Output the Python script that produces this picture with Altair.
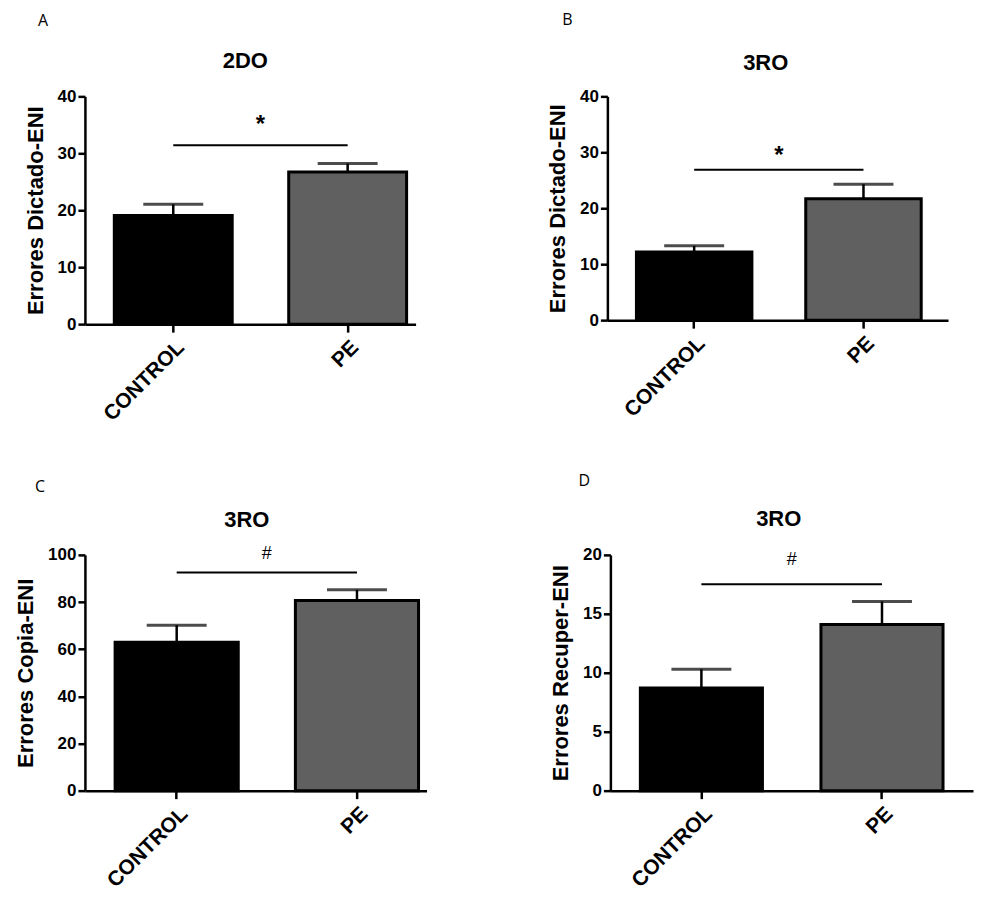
import altair as alt
import pandas as pd

# ---------------- data ----------------
panel_letters = ["A", "B", "C", "D"]
panel_titles = ["2DO", "3RO", "3RO", "3RO"]
y_titles = ["Errores Dictado-ENI", "Errores Dictado-ENI", "Errores Copia-ENI", "Errores Recuper-ENI"]
groups = ["CONTROL", "PE"]
means_A = [19.1, 26.7]
means_B = [12.2, 21.7]
means_C = [63.0, 80.7]
means_D = [8.7, 14.1]
sem_A = [1.95, 1.5]
sem_B = [1.1, 2.6]
sem_C = [7.2, 4.5]
sem_D = [1.6, 1.95]
sig_line_y = [31.4, 26.9, 92.5, 17.5]
sig_symbols = ["*", "*", "#", "#"]
sig_symbol_y = [35.6, 30.1, 100.4, 19.6]
y_max = [40, 40, 100, 20]
y_step = [10, 10, 20, 5]

means = [means_A, means_B, means_C, means_D]
sems = [sem_A, sem_B, sem_C, sem_D]

# ---------------- layout (style) ----------------
widths = [331, 341, 342, 363]
heights = [228, 224, 236, 236]
pad_inner = [0.324, 0.318, 0.317, 0.324]
pad_outer = [0.110, 0.165, 0.106, 0.166]
band_align = [0.766, 0.52, 0.79, 0.5]
letter_pos = [(-42, -75), (-40, -76), (-45, -68), (-26, -74)]
title_pos = [(-5, -35), (-12, -33), (-9, -35), (-13, -36)]

FONT = "Liberation Sans"
BAR_COLORS = ["#000000", "#606060"]


def panel(i):
    w = widths[i]
    step = w / (2 - pad_inner[i] + 2 * pad_outer[i])
    df = pd.DataFrame({
        "group": groups,
        "mean": means[i],
        "upper": [m + s for m, s in zip(means[i], sems[i])],
    })
    sig_df = pd.DataFrame({
        "group": [groups[0]],
        "group2": [groups[1]],
        "y": [sig_line_y[i]],
        "sym": [sig_symbols[i]],
        "sy": [sig_symbol_y[i]],
    })
    letter_df = pd.DataFrame({"t": [panel_letters[i]]})
    title_df = pd.DataFrame({"t": [panel_titles[i]]})

    xscale = alt.Scale(domain=groups, paddingInner=pad_inner[i],
                       paddingOuter=pad_outer[i], align=band_align[i])
    x = alt.X("group:N", sort=groups, scale=xscale, title=None,
              axis=alt.Axis(labelAngle=-45, labelAlign="right", labelBaseline="top",
                            labelFontSize=21, labelPadding=4, tickSize=8))
    yscale = alt.Scale(domain=[0, y_max[i]], nice=False, zero=True)
    yvals = list(range(0, y_max[i] + 1, y_step[i]))
    y = alt.Y("mean:Q", scale=yscale, title=y_titles[i],
              axis=alt.Axis(values=yvals, tickSize=7, labelFontSize=17,
                            titleFontSize=22, titlePadding=10, labelPadding=2))

    bars = alt.Chart(df).mark_bar(stroke="black", strokeWidth=3).encode(
        x=x, y=y,
        color=alt.Color("group:N", scale=alt.Scale(domain=groups, range=BAR_COLORS), legend=None),
    )
    err = alt.Chart(df).mark_rule(color="black", strokeWidth=2.5).encode(
        x=alt.X("group:N", title=None),
        y=alt.Y("mean:Q", title=y_titles[i]),
        y2="upper:Q",
    )
    cap = alt.Chart(df).mark_tick(color="black", size=60, thickness=3).encode(
        x=alt.X("group:N", title=None),
        y=alt.Y("upper:Q", title=y_titles[i]),
    )
    sig = alt.Chart(sig_df).mark_rule(color="black", strokeWidth=2).encode(
        x=alt.X("group:N", title=None),
        x2="group2:N",
        y=alt.Y("y:Q", title=y_titles[i]),
    )
    sym_bold = sig_symbols[i] == "*"
    sym = alt.Chart(sig_df).mark_text(
        dx=step / 2, font=FONT, fontSize=24 if sym_bold else 18,
        fontWeight="bold" if sym_bold else "normal", color="black",
        baseline="middle", dy=4 if sym_bold else 0,
    ).encode(
        x=alt.X("group:N", title=None),
        y=alt.Y("sy:Q", title=y_titles[i]),
        text="sym:N",
    )
    letter = alt.Chart(letter_df).mark_text(
        font="Open Sans", fontSize=16, color="black", baseline="middle", align="center"
    ).encode(
        x=alt.value(letter_pos[i][0]),
        y=alt.value(letter_pos[i][1]),
        text="t:N",
    )
    title = alt.Chart(title_df).mark_text(
        font=FONT, fontSize=22, fontWeight="bold", color="black",
        baseline="middle", align="center"
    ).encode(
        x=alt.value(w / 2 + title_pos[i][0]),
        y=alt.value(title_pos[i][1]),
        text="t:N",
    )
    return alt.layer(bars, err, cap, sig, sym, letter, title).properties(
        width=w, height=heights[i],
    )


row1 = alt.hconcat(panel(0), panel(1), spacing=131)
row2 = alt.hconcat(panel(2), panel(3), spacing=123)
chart = alt.vconcat(row1, row2, spacing=48).properties(
    padding={"left": 6, "top": 4, "right": 5, "bottom": 5}
).configure_view(stroke=None).configure_axis(
    grid=False, domainColor="black", domainWidth=2.5, tickColor="black", tickWidth=2.5,
    labelFont=FONT, labelFontWeight="bold", labelColor="black",
    titleFont=FONT, titleFontWeight="bold", titleColor="black",
)

chart.save("out.html", embed_options={"renderer": "svg", "actions": False})
